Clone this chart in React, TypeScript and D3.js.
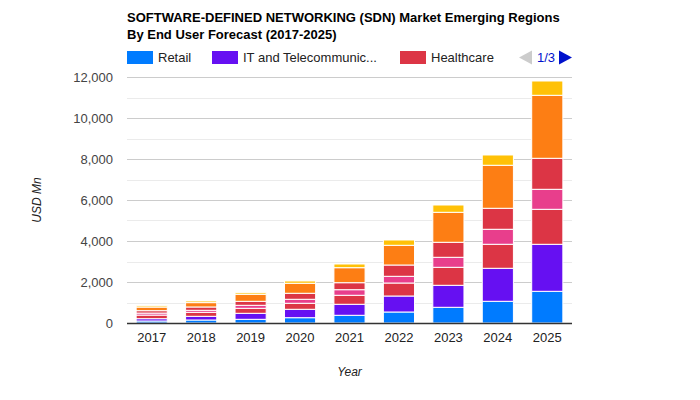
import React from "react";
import * as d3 from "d3";

const years = ["2017", "2018", "2019", "2020", "2021", "2022", "2023", "2024", "2025"];
const seriesNames = ["Retail", "IT and Telecommunication", "Healthcare", "Government", "BFSI", "Manufacturing", "Others"];
const seriesColors = ["#007bff", "#6610f2", "#dc3545", "#e83e8c", "#dc3545", "#fd7e14", "#ffc107"];

const retail = [98, 146, 180, 259, 376, 537, 766, 1059, 1546];
const itTelecom = [112, 180, 293, 410, 537, 780, 1073, 1610, 2293];
const healthcare = [176, 195, 244, 293, 439, 634, 878, 1171, 1707];
const government = [98, 98, 146, 195, 273, 327, 488, 732, 976];
const bfsi = [117, 163, 195, 293, 341, 551, 732, 1024, 1512];
const manufacturing = [176, 212, 341, 488, 732, 961, 1463, 2098, 3073];
const others = [68, 80, 78, 112, 180, 259, 356, 502, 698];

const yTicks = [0, 2000, 4000, 6000, 8000, 10000, 12000];
const yMinorTicks = [1000, 3000, 5000, 7000, 9000, 11000];

const titleLines = [
  "SOFTWARE-DEFINED NETWORKING (SDN) Market Emerging Regions",
  "By End User Forecast (2017-2025)",
];
const legendLabels = ["Retail", "IT and Telecommunic...", "Healthcare"];
const yAxisTitle = "USD Mn";
const xAxisTitle = "Year";
const pagerText = "1/3";

const FONT = "Arial, 'Liberation Sans', sans-serif";

export default function App() {
  const width = 700;
  const height = 400;
  const left = 127;
  const right = 572;
  const top = 77;
  const bottom = 323;

  const allSeries = [retail, itTelecom, healthcare, government, bfsi, manufacturing, others];
  const table = years.map((yr, i) => {
    const row: any = { year: yr };
    seriesNames.forEach((n, s) => (row[n] = allSeries[s][i]));
    return row;
  });
  const stacked = d3.stack<any>().keys(seriesNames)(table);

  const x = d3.scaleBand<string>().domain(years).range([left, right]).paddingInner(0.37).paddingOuter(0.185);
  const y = d3.scaleLinear().domain([0, 12000]).range([bottom, top]);
  const fmt = d3.format(",");

  const legendX = [127, 212, 400];

  return (
    <svg width={width} height={height} style={{ display: "block", margin: "-8px" }} fontFamily={FONT}>
      <rect x={0} y={0} width={width} height={height} fill="#fff" />
      {titleLines.map((t, i) => (
        <text key={i} x={127} y={22 + i * 17} fontSize={13} fontWeight="bold" fill="#000">
          {t}
        </text>
      ))}
      {legendLabels.map((l, i) => (
        <g key={l}>
          <rect x={legendX[i]} y={51} width={26} height={13} fill={seriesColors[i]} />
          <text x={legendX[i] + 31} y={61.5} fontSize={13} fill="#222">
            {l}
          </text>
        </g>
      ))}
      <path d="M519,57.5 L532,50.5 L532,64.5 Z" fill="#ccc" />
      <text x={537} y={61.5} fontSize={13} fill="#0011cc">
        {pagerText}
      </text>
      <path d="M572,57.5 L559,50.5 L559,64.5 Z" fill="#0011cc" />

      {yMinorTicks.map((t) => (
        <line key={"m" + t} x1={left} x2={right} y1={Math.round(y(t)) + 0.5} y2={Math.round(y(t)) + 0.5} stroke="#ebebeb" />
      ))}
      {yTicks.map((t) => (
        <g key={t}>
          {t !== 0 && (
            <line x1={left} x2={right} y1={Math.round(y(t)) + 0.5} y2={Math.round(y(t)) + 0.5} stroke="#cccccc" />
          )}
          <text x={113} y={y(t) + 4.5} fontSize={13} textAnchor="end" fill="#444">
            {fmt(t)}
          </text>
        </g>
      ))}

      {stacked.map((layer, s) => (
        <g key={seriesNames[s]} fill={seriesColors[s]}>
          {layer.map((d, i) => {
            const y0 = y(d[0]);
            const y1 = y(d[1]);
            return (
              <rect
                key={i}
                x={x(years[i])}
                y={y1}
                width={x.bandwidth()}
                height={Math.max(0, y0 - y1)}
                stroke="#fff"
                strokeWidth={1}
              />
            );
          })}
        </g>
      ))}

      <line x1={left} x2={right} y1={bottom + 0.5} y2={bottom + 0.5} stroke="#333" strokeWidth={1.5} />

      {years.map((yr) => (
        <text key={yr} x={(x(yr) as number) + x.bandwidth() / 2} y={342} fontSize={13} textAnchor="middle" fill="#222">
          {yr}
        </text>
      ))}
      <text x={(left + right) / 2} y={376} fontSize={12} fontStyle="italic" textAnchor="middle" fill="#222">
        {xAxisTitle}
      </text>
      <text
        transform={`translate(41,${(top + bottom) / 2}) rotate(-90)`}
        fontSize={12}
        fontStyle="italic"
        textAnchor="middle"
        fill="#222"
      >
        {yAxisTitle}
      </text>
    </svg>
  );
}
